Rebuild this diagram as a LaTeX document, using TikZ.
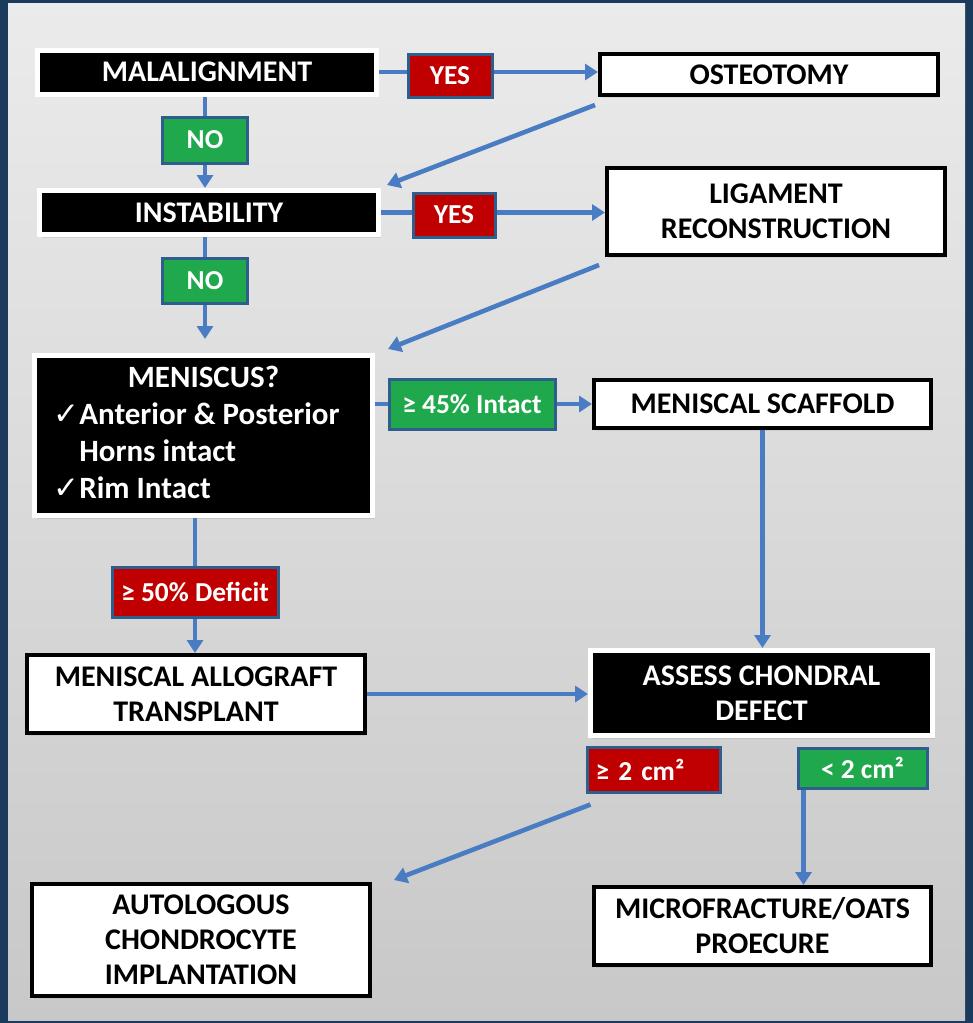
\documentclass[tikz,border=0pt]{standalone}
\usepackage{fontspec}
\setmainfont{Carlito}
\newfontfamily\dvs{DejaVu Sans}
\usetikzlibrary{arrows.meta,calc,shadows}
\definecolor{navy}{HTML}{1B3A5C}
\definecolor{arrowblue}{HTML}{4A7CC4}
\definecolor{labred}{HTML}{C00000}
\definecolor{labgreen}{HTML}{20A84C}
\definecolor{labedge}{HTML}{2E5E8C}
\definecolor{bgtop}{HTML}{EBEBEB}
\definecolor{bgbot}{HTML}{C8C8C8}
\begin{document}
\begin{tikzpicture}[x=0.5pt,y=-0.5pt,
  box/.style={rectangle, align=center, inner sep=0pt, font=\bfseries\fontsize{15}{17.5}\selectfont},
  blackbox/.style={box, fill=black, draw=white, line width=2.5pt, text=white,
    drop shadow={opacity=0.2,shadow xshift=1pt,shadow yshift=-1.5pt}},
  whitebox/.style={box, fill=white, draw=black, line width=2pt, text=black,
    drop shadow={opacity=0.15,shadow xshift=1pt,shadow yshift=-1.5pt}},
  lab/.style={rectangle, inner sep=0pt, draw=labedge, line width=1.5pt, text=white,
    font=\bfseries\fontsize{13.7}{15}\selectfont},
  redlab/.style={lab, fill=labred},
  greenlab/.style={lab, fill=labgreen},
  conn/.style={draw=arrowblue, line width=2.3pt},
  arr/.style={conn, -{Triangle[width=8pt,length=6.5pt]}},
]
\useasboundingbox (0,0) rectangle (973,1023);
\fill[navy] (0,0) rectangle (973,1023);
\shade[top color=bgtop, bottom color=bgbot] (8,3) rectangle (965,1020);

\node[blackbox, minimum width=169.5pt, minimum height=22pt] (mal) at (207,72) {MALALIGNMENT};
\node[redlab, minimum width=42pt, minimum height=21.5pt] (yes1) at (450,76) {YES};
\node[whitebox, minimum width=169pt, minimum height=20.5pt] (osteo) at (769,74.5) {OSTEOTOMY};
\node[greenlab, minimum width=42.5pt, minimum height=23pt] (no1) at (205,140) {NO};
\node[blackbox, minimum width=169.5pt, minimum height=22pt] (insta) at (209,212.5) {INSTABILITY};
\node[redlab, minimum width=41pt, minimum height=22pt] (yes2) at (454,215) {YES};
\node[whitebox, minimum width=169pt, minimum height=43.5pt] (lig) at (776,211.5) {LIGAMENT\\RECONSTRUCTION};
\node[greenlab, minimum width=42.5pt, minimum height=22.5pt] (no2) at (205,280.5) {NO};
\node[blackbox, minimum width=169pt, minimum height=80pt] (men) at (203.5,435.5)
  {\fontsize{15.5}{18.5}\selectfont\begin{tabular}{@{}l@{}l@{\hspace{7pt}}}
   \multicolumn{2}{@{}c@{}}{MENISCUS?}\\
   {\dvs\mdseries ✓}&Anterior \& Posterior\\
   &Horns intact\\
   {\dvs\mdseries ✓}&Rim Intact
   \end{tabular}};
\node[greenlab, minimum width=83pt, minimum height=25pt] (int45) at (472,404) {≥ 45\% Intact};
\node[whitebox, minimum width=168.5pt, minimum height=24pt] (scaf) at (762.5,404) {MENISCAL SCAFFOLD};
\node[redlab, minimum width=83pt, minimum height=25pt] (def50) at (195,592) {≥ 50\% Deficit};
\node[whitebox, minimum width=169pt, minimum height=39pt] (allo) at (196,694) {MENISCAL ALLOGRAFT\\TRANSPLANT};
\node[blackbox, minimum width=171pt, minimum height=42.5pt] (assess) at (761.5,693) {ASSESS CHONDRAL\\DEFECT};
\node[redlab, minimum width=66.5pt, minimum height=22.5pt, text width=58pt, align=left] (cm2a) at (653.5,769.5) {≥ 2 cm²};
\node[greenlab, minimum width=64.5pt, minimum height=20pt] (cm2b) at (862.5,768) {< 2 cm²};
\node[whitebox, minimum width=169pt, minimum height=56pt] (aci) at (201,940) {AUTOLOGOUS\\CHONDROCYTE\\IMPLANTATION};
\node[whitebox, minimum width=168.5pt, minimum height=39pt] (micro) at (762.5,926) {MICROFRACTURE/OATS\\PROECURE};

\draw[conn] (mal.east) -- (mal.east -| yes1.west);
\draw[arr] (yes1.east |- mal.east) -- (osteo.west |- mal.east);
\draw[conn] (no1.north |- mal.south) -- (no1.north);
\draw[arr] (no1.south) -- (no1.south |- insta.north);
\draw[arr] ($(osteo.south west)+(-3,8)$) -- ($(insta.north east)+(6,-3)$);
\draw[conn] (insta.east) -- (insta.east -| yes2.west);
\draw[arr] (yes2.east |- insta.east) -- (lig.west |- insta.east);
\draw[conn] (no2.north |- insta.south) -- (no2.north);
\coordinate (menin) at ($(no2.south |- men.north)+(0,-14)$);
\draw[arr] (no2.south) -- (menin);
\draw[arr] ($(lig.south west)+(-6,8)$) -- ($(men.north east)+(13,-4)$);
\draw[conn] (men.east |- int45.west) -- (int45.west);
\draw[arr] (int45.east) -- (scaf.west);
\draw[conn] (def50.north |- men.south) -- (def50.north);
\draw[arr] (def50.south) -- (def50.south |- allo.north);
\draw[arr] (scaf.south) -- (scaf.south |- assess.north);
\draw[arr] (allo.east) -- (allo.east -| assess.west);
\draw[arr] ($(cm2a.south west)+(5,11)$) -- ($(aci.north east)+(22,-2)$);
\coordinate (c2s) at ($(cm2b.south west)+(7,0)$);
\draw[arr] (c2s) -- (c2s |- micro.north);
\end{tikzpicture}
\end{document}
